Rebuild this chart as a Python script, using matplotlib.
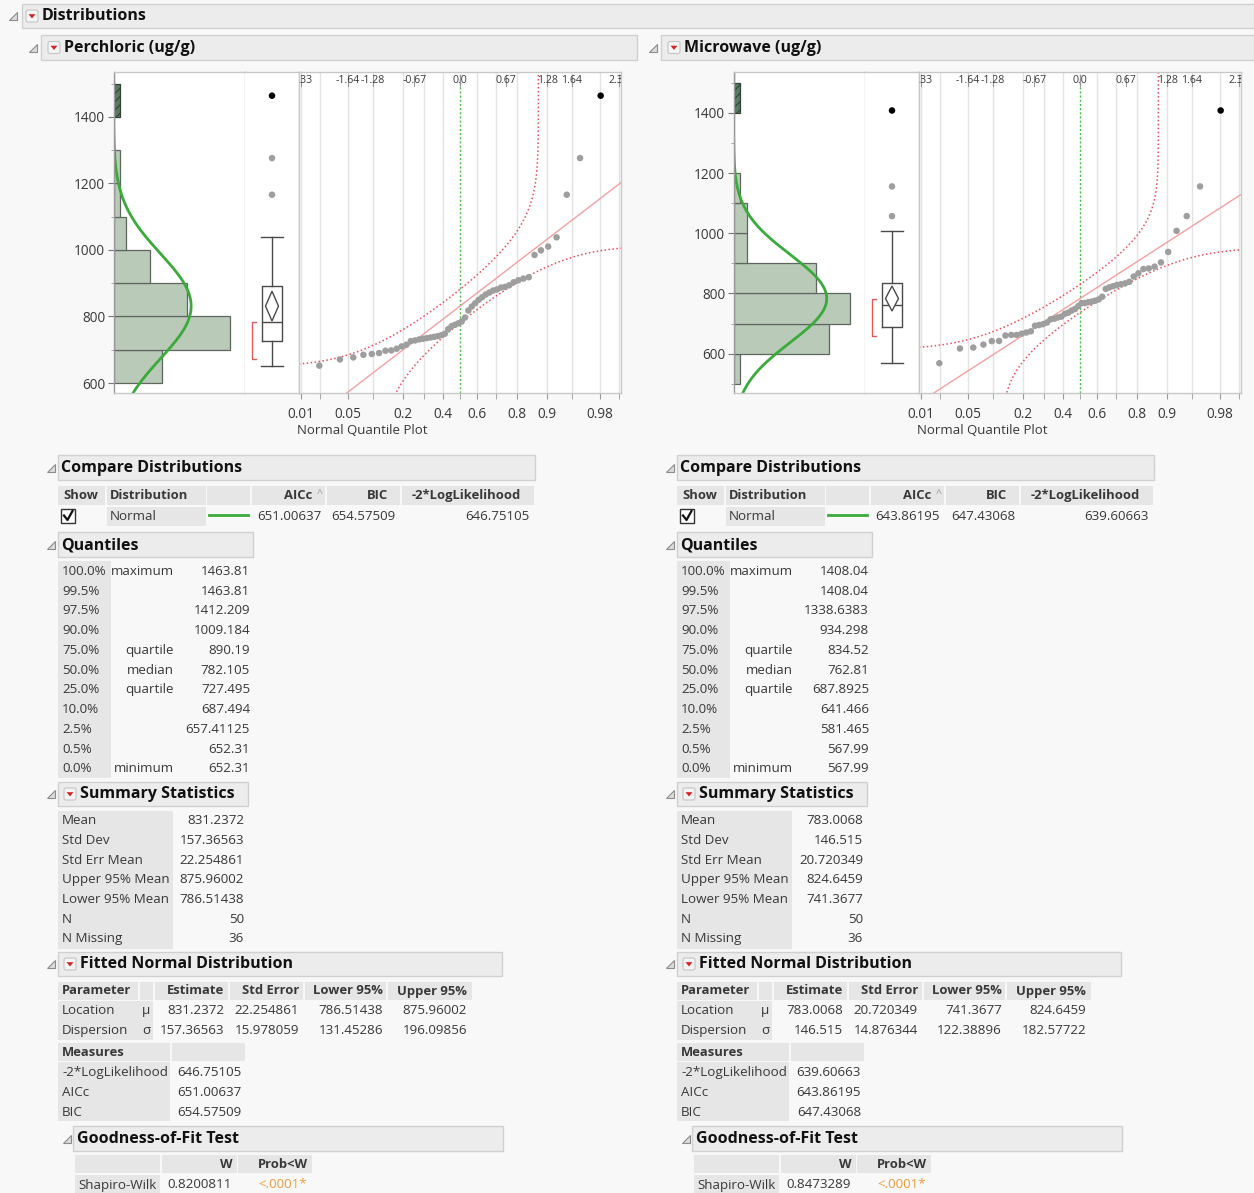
import numpy as np
import matplotlib
matplotlib.use("Agg")
import matplotlib.pyplot as plt
from matplotlib.patches import Rectangle, Polygon, FancyBboxPatch
from statistics import NormalDist

plt.rcParams["font.family"] = ["Open Sans", "DejaVu Sans"]
plt.rcParams["hatch.linewidth"] = 0.8

W, H = 1254, 1193

# sorted observations (ug/g), 50 non-missing rows each
perchloric = [652.31, 670.86, 677, 685, 687.2, 690.14, 697, 698, 703, 710,
              715, 726, 728, 731, 733, 735, 737, 739, 741, 744,
              748, 762, 771, 775, 779.5, 784.71, 797, 818, 830, 840,
              850, 858, 866, 872, 878, 881.2, 887, 889, 893.76, 903,
              909, 914, 918, 985, 999, 1010.2, 1038, 1166, 1276.17, 1463.81]
microwave = [567.99, 616.99, 620, 630, 641.4, 642, 660, 662, 662, 666,
             670, 674, 692.52, 695, 698, 703, 714, 716, 720, 723,
             732, 736, 743, 748, 758, 767.62, 768, 771, 773, 776,
             780, 789, 815, 820, 824, 828, 830.5, 833.2, 838.48, 856.1,
             867, 881, 883, 889, 903, 937.8, 1008, 1057, 1155.67, 1408.04]

quantile_pcts = ["100.0%", "99.5%", "97.5%", "90.0%", "75.0%", "50.0%",
                 "25.0%", "10.0%", "2.5%", "0.5%", "0.0%"]
quantile_names = ["maximum", "", "", "", "quartile", "median", "quartile",
                  "", "", "", "minimum"]
perc_quantiles = ["1463.81", "1463.81", "1412.209", "1009.184", "890.19", "782.105",
                  "727.495", "687.494", "657.41125", "652.31", "652.31"]
micro_quantiles = ["1408.04", "1408.04", "1338.6383", "934.298", "834.52", "762.81",
                   "687.8925", "641.466", "581.465", "567.99", "567.99"]

summary_labels = ["Mean", "Std Dev", "Std Err Mean", "Upper 95% Mean",
                  "Lower 95% Mean", "N", "N Missing"]
perc_summary = ["831.2372", "157.36563", "22.254861", "875.96002", "786.51438", "50", "36"]
micro_summary = ["783.0068", "146.515", "20.720349", "824.6459", "741.3677", "50", "36"]

fit_columns = ["Estimate", "Std Error", "Lower 95%", "Upper 95%"]
perc_fit = [["831.2372", "22.254861", "786.51438", "875.96002"],
            ["157.36563", "15.978059", "131.45286", "196.09856"]]
micro_fit = [["783.0068", "20.720349", "741.3677", "824.6459"],
             ["146.515", "14.876344", "122.38896", "182.57722"]]

measure_labels = ["-2*LogLikelihood", "AICc", "BIC"]
perc_measures = ["646.75105", "651.00637", "654.57509"]
micro_measures = ["639.60663", "643.86195", "647.43068"]

perc_w = "0.8200811"
micro_w = "0.8473289"

grid_probs = [0.01, 0.02, 0.05, 0.1, 0.2, 0.3, 0.4, 0.6, 0.7, 0.8, 0.9, 0.95, 0.98, 0.99]
label_probs = [0.01, 0.05, 0.2, 0.4, 0.6, 0.8, 0.9, 0.98]
top_z = [-2.33, -1.64, -1.28, -0.67, 0.0, 0.67, 1.28, 1.64, 2.33]

nd = NormalDist()
TXT = "#383838"
CELL = "#e6e6e6"
FS = 9.6     # table text
FSB = 9.4    # table column headers
FSH = 11.5   # outline headers

fig = plt.figure(figsize=(W / 100, H / 100), dpi=100)
fig.patch.set_facecolor("#f8f8f8")
bg = fig.add_axes([0, 0, 1, 1])
bg.set_xlim(0, W)
bg.set_ylim(H, 0)
bg.axis("off")


def axes_px(x0, y0, x1, y1):
    return fig.add_axes([x0 / W, 1 - y1 / H, (x1 - x0) / W, (y1 - y0) / H])


def cell(x0, y0, x1, y1, face=CELL):
    bg.add_patch(Rectangle((x0, y0), x1 - x0, y1 - y0, facecolor=face, edgecolor="none"))


def txt(x, y, s, ha="left", size=FS, bold=False, color=TXT):
    bg.text(x, y, s, ha=ha, va="center", fontsize=size, color=color,
            fontweight="bold" if bold else "normal")


def disclosure(x, y):
    bg.add_patch(Polygon([(x + 4, y - 4), (x + 4, y + 4), (x - 4, y + 4)],
                         closed=True, facecolor="#dcdcdc", edgecolor="#8c8c8c", lw=0.8))


def menu_icon(x, y):
    bg.add_patch(FancyBboxPatch((x - 6, y - 6), 12, 12, boxstyle="round,pad=0,rounding_size=2",
                                facecolor="#f4f4f4", edgecolor="#c4c4c4", lw=0.8))
    bg.add_patch(Polygon([(x - 3.5, y - 1.8), (x + 3.5, y - 1.8), (x, y + 2.4)],
                         closed=True, facecolor="#d42222", edgecolor="none"))


def header(x0, y0, x1, y1, title, tri_x, text_x, icon_x=None, size=FSH):
    bg.add_patch(Rectangle((x0, y0), x1 - x0, y1 - y0, facecolor="#ececec",
                           edgecolor="#d0d0d0", lw=1))
    yc = (y0 + y1) / 2
    disclosure(tri_x, yc)
    if icon_x is not None:
        menu_icon(icon_x, yc)
    bg.text(text_x, yc + 0.5, title, ha="left", va="center", fontsize=size,
            fontweight="bold", color="#111111")


def draw_side(dx, title, obs, qv, summ, fitp, meas, wstat, bin0, ylim):
    obs = np.sort(np.array(obs, dtype=float))
    n = len(obs)
    mu, sd = float(summ[0]), float(summ[1])

    header(41 + dx, 35, 637 + dx if dx == 0 else W, 60, title, 33 + dx, 64 + dx, icon_x=54 + dx)

    # ---- graphs: histogram | box plot | normal quantile plot ----
    top, bot = 72, 393
    xh0, xh1, xb1, xq1 = 113.5 + dx, 245 + dx, 299 + dx, 621 + dx
    axh = axes_px(xh0, top, xh1, bot)
    axb = axes_px(xh1, top, xb1, bot)
    axq = axes_px(xb1, top, xq1, bot)
    for a in (axh, axb, axq):
        a.set_facecolor("white")
        for s in a.spines.values():
            s.set_color("#c8c8c8")
            s.set_linewidth(1)
        a.set_ylim(ylim)
    axh.spines["left"].set_color("#9a9a9a")
    axb.spines["left"].set_visible(False)

    edges = np.arange(bin0, ylim[1] + 100, 100)
    counts, _ = np.histogram(obs, edges)
    sel = np.searchsorted(edges, obs.max(), side="right") - 1
    keep = np.arange(len(counts)) != sel
    axh.barh(edges[:-1][keep], counts[keep], height=100, align="edge",
             color="#b9cab9", edgecolor="#5f665f", lw=0.9)
    axh.barh([edges[sel]], [counts[sel]], height=100, align="edge",
             color="#5c7a62", edgecolor="#2f4434", hatch="////", lw=0.9)
    yy = np.linspace(ylim[0], ylim[1], 500)
    pdf = np.array([NormalDist(mu, sd).pdf(v) for v in yy])
    axh.plot(n * 100 * pdf, yy, color="#3aaa3a", lw=2)
    axh.set_xlim(0, counts.max() * 1.13)
    axh.set_xticks([])
    axh.set_yticks(np.arange(600, 1401, 200))
    axh.set_yticks(np.arange(bin0, 1501, 100), minor=True)
    axh.tick_params(axis="y", which="major", length=4, color="#777777",
                    labelsize=9.8, labelcolor=TXT, pad=2)
    axh.tick_params(axis="y", which="minor", length=2.5, color="#999999")

    # box plot with means diamond and shortest-half bracket
    q3, med, q1 = float(qv[4]), float(qv[5]), float(qv[6])
    iqr = q3 - q1
    inside = obs[(obs >= q1 - 1.5 * iqr) & (obs <= q3 + 1.5 * iqr)]
    line = dict(color="#4a4a4a", lw=1)
    axb.bxp([dict(med=med, q1=q1, q3=q3, whislo=inside.min(), whishi=inside.max(), fliers=[])],
            positions=[0.5], widths=0.37, capwidths=0.4, showfliers=False,
            boxprops=line, medianprops=line, whiskerprops=line, capprops=line)
    outl = obs[(obs < q1 - 1.5 * iqr) | (obs > q3 + 1.5 * iqr)]
    axb.scatter(np.full(len(outl), 0.5), outl, s=22, lw=0,
                c=["black" if v == obs.max() else "#9e9e9e" for v in outl], zorder=3)
    m, up, lo = float(summ[0]), float(summ[3]), float(summ[4])
    axb.add_patch(Polygon([(0.5, lo), (0.62, m), (0.5, up), (0.38, m)], closed=True,
                          facecolor="white", edgecolor="#4a4a4a", lw=1, zorder=3))
    half = n // 2
    spans = obs[half - 1:] - obs[:n - half + 1]
    i0 = int(np.argmin(spans))
    s_lo, s_hi = obs[i0], obs[i0 + half - 1]
    axb.plot([0.2, 0.137, 0.137, 0.2], [s_lo, s_lo, s_hi, s_hi], color="#e05a5a", lw=1)
    axb.set_xlim(0, 1)
    axb.set_xticks([])
    axb.set_yticks([])

    # normal quantile plot
    z = np.array([nd.inv_cdf(i / (n + 1)) for i in range(1, n + 1)])
    for p in grid_probs:
        axq.axvline(nd.inv_cdf(p), color="#e3e3e3", lw=1, zorder=0)
    axq.axvline(0, color="#4cb84c", lw=1, ls=(0, (1.5, 1.5)), zorder=1)
    zz = np.linspace(-2.5, 2.5, 50)
    axq.plot(zz, mu + sd * zz, color="#f2a0a0", lw=1, zorder=2)
    # Lilliefors 95% confidence bands, sampled in probability space so the
    # asymptotic ends reach the frame
    d = 0.886 / np.sqrt(n)
    p_lo, p_hi = nd.cdf(-2.5), nd.cdf(2.5)
    pu = np.concatenate([np.linspace(p_lo + d, 0.99, 1500),
                         1 - np.logspace(-2, -9, 400)])
    zu = np.array([nd.inv_cdf(v - d) for v in pu])
    yu = mu + sd * np.array([nd.inv_cdf(v) for v in pu])
    pl = np.concatenate([np.logspace(-9, -2, 400),
                         np.linspace(0.01, p_hi - d, 1500)])
    zl = np.array([nd.inv_cdf(v + d) for v in pl])
    yl = mu + sd * np.array([nd.inv_cdf(v) for v in pl])
    for bz, by in ((zu, yu), (zl, yl)):
        axq.plot(bz, by, color="#f04a5a", lw=1.1, ls=(0, (1, 1.6)), zorder=2)
    axq.scatter(z, obs, s=22, lw=0, zorder=3,
                c=["black" if v == obs.max() else "#9e9e9e" for v in obs])
    axq.set_xlim(-2.36, 2.36)
    axq.set_ylim(ylim)
    axq.set_xticks([nd.inv_cdf(p) for p in label_probs])
    axq.set_xticklabels([f"{p:g}" for p in label_probs])
    axq.set_xticks([nd.inv_cdf(p) for p in grid_probs + [0.5] if p not in label_probs], minor=True)
    axq.tick_params(axis="x", which="both", length=4, color="#999999",
                    labelsize=9.8, labelcolor=TXT, pad=6)
    axq.set_yticks([])
    for v in top_z:
        axq.text(v, 0.975, f"{v:.2f}" if v != 0 else "0.0", transform=axq.get_xaxis_transform(),
                 ha="center", va="center", fontsize=7.6, color="#3a3a3a", clip_on=True)
        axq.plot([v, v], [0.955, 0.99], transform=axq.get_xaxis_transform(),
                 color="#999999", lw=0.8, clip_on=True)
    txt(362 + dx, 430, "Normal Quantile Plot", ha="center", size=9.5)

    # ---- report tables ----
    t = dx - 1 if dx else 0
    header(58 + t, 455, 535 + t, 480, "Compare Distributions", 51 + t, 61 + t)
    for (a, b) in [(58, 105), (107, 206), (207, 250), (252, 325), (327, 400), (402, 534)]:
        cell(a + t, 486, b + t, 505)
    txt(63 + t, 495.5, "Show", bold=True, size=FSB)
    txt(110 + t, 495.5, "Distribution", bold=True, size=FSB)
    txt(312 + t, 495.5, "AICc", ha="right", bold=True, size=FSB)
    txt(320 + t, 494, "^", ha="center", size=7.5, color="#999999")
    txt(388 + t, 495.5, "BIC", ha="right", bold=True, size=FSB)
    txt(521 + t, 495.5, "-2*LogLikelihood", ha="right", bold=True, size=FSB)
    bg.add_patch(Rectangle((61 + t, 509), 14, 14, facecolor="white", edgecolor="#333333", lw=1))
    bg.plot([64 + t, 67.5 + t, 72.5 + t], [515.5, 520, 511], color="#111111", lw=1.6)
    cell(107 + t, 507, 206 + t, 526)
    txt(110 + t, 516, "Normal")
    bg.plot([209 + t, 248 + t], [515, 515], color="#3aaa3a", lw=2)
    txt(321 + t, 516, meas[1], ha="right")
    txt(396 + t, 516, meas[2], ha="right")
    txt(530 + t, 516, meas[0], ha="right")

    header(58 + t, 532, 253 + t, 557, "Quantiles", 51 + t, 61 + t)
    cell(58 + t, 561, 111 + t, 778)
    for k in range(len(quantile_pcts)):
        y = 571.3 + 19.75 * k
        txt(62 + t, y, quantile_pcts[k])
        txt(174 + t, y, quantile_names[k], ha="right")
        txt(250 + t, y, qv[k], ha="right")

    header(58 + t, 782, 248 + t, 806, "Summary Statistics", 51 + t, 80 + t, icon_x=70 + t)
    cell(58 + t, 811, 173 + t, 949)
    for k in range(len(summary_labels)):
        y = 820.7 + 19.7 * k
        txt(62 + t, y, summary_labels[k])
        txt(244 + t, y, summ[k], ha="right")

    header(58 + t, 952, 502 + t, 976, "Fitted Normal Distribution", 51 + t, 80 + t, icon_x=70 + t)
    col_x = [(155, 228, 224), (230, 303, 299), (305, 386, 383), (388, 472, 467)]
    cell(58 + t, 982, 138 + t, 1000)
    cell(140 + t, 982, 153 + t, 1000)
    txt(62 + t, 991, "Parameter", bold=True, size=FSB)
    for (a, b, r), name in zip(col_x, fit_columns):
        cell(a + t, 982, b + t, 1000)
        txt(r + t, 991, name, ha="right", bold=True, size=FSB)
    cell(58 + t, 1001, 153 + t, 1040)
    for k, (lab, sym) in enumerate([("Location", "\u03bc"), ("Dispersion", "\u03c3")]):
        y = 1010.7 + 20 * k
        txt(62 + t, y, lab)
        txt(146 + t, y, sym, ha="center")
        for (a, b, r), val in zip(col_x, fitp[k]):
            txt(r + t, y, val, ha="right")
    cell(58 + t, 1043, 170 + t, 1061)
    cell(172 + t, 1043, 245 + t, 1061)
    txt(62 + t, 1052, "Measures", bold=True, size=FSB)
    cell(58 + t, 1062, 170 + t, 1121)
    for k in range(len(measure_labels)):
        y = 1072.7 + 19.7 * k
        txt(62 + t, y, measure_labels[k])
        txt(242 + t, y, meas[k], ha="right")

    header(73 + t, 1126, 503 + t, 1151, "Goodness-of-Fit Test", 67 + t, 77 + t)
    cell(75 + t, 1155, 160 + t, 1173)
    cell(162 + t, 1155, 237 + t, 1173)
    cell(238 + t, 1155, 312 + t, 1173)
    txt(233 + t, 1164, "W", ha="right", bold=True, size=FSB)
    txt(308 + t, 1164, "Prob<W", ha="right", bold=True, size=FSB)
    cell(75 + t, 1175, 160 + t, 1193)
    txt(78 + t, 1185, "Shapiro-Wilk")
    txt(232 + t, 1185, wstat, ha="right")
    txt(307 + t, 1185, "<.0001*", ha="right", color="#f29a3a")


header(22, 4, W, 28, "Distributions", 13, 42, icon_x=32)
draw_side(0, "Perchloric (ug/g)", perchloric, perc_quantiles, perc_summary, perc_fit,
          perc_measures, perc_w, 600, (570, 1535))
draw_side(620, "Microwave (ug/g)", microwave, micro_quantiles, micro_summary, micro_fit,
          micro_measures, micro_w, 500, (469, 1536))

fig.savefig("out.png", dpi=100, facecolor=fig.get_facecolor())
